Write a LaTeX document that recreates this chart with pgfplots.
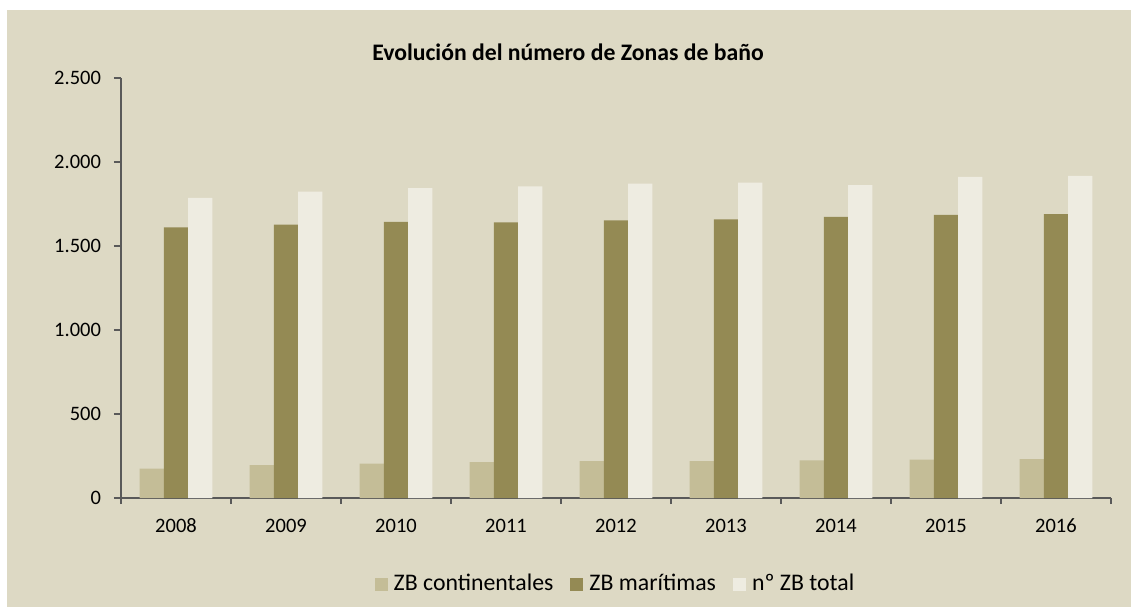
\documentclass[border=0pt]{standalone}
\usepackage{pgfplots}
\pgfplotsset{compat=1.18}
\usepackage{fontspec}
\setmainfont{Carlito}
\definecolor{bgc}{HTML}{DDD9C4}
\definecolor{cont}{HTML}{C4BD97}
\definecolor{mar}{HTML}{948A54}
\definecolor{tot}{HTML}{EEECE1}
\definecolor{axc}{HTML}{595959}
\begin{document}
\begin{tikzpicture}[x=1pt,y=1pt]
\fill[white] (0,0) rectangle (565.5,303.5);
\fill[bgc] (3.5,0) rectangle (565.5,298.5);
\node[font=\fontsize{11.85}{14}\selectfont\bfseries] at (284,277.5) {Evolución del número de Zonas de baño};
\begin{axis}[
  at={(60.5pt,54.5pt)}, anchor=south west,
  scale only axis, width=495pt, height=210pt,
  ybar=0pt, bar width=12.15pt,
  xmin=-0.5, xmax=8.5, ymin=0, ymax=2500,
  axis lines=left, axis line style={-, draw=axc, line width=0.6pt},
  xtick={0,...,8},
  xticklabels={2008,2009,2010,2011,2012,2013,2014,2015,2016},
  minor xtick={-0.5,0.5,...,8.5},
  ytick={0,500,1000,1500,2000,2500},
  yticklabels={0,500,1.000,1.500,2.000,2.500},
  tick align=outside,
  major tick length=3.5pt, minor tick length=3pt,
  major x tick style={draw=none},
  tick style={draw=axc, line width=0.6pt},
  ticklabel style={font=\fontsize{10.25}{12}\selectfont},
  yticklabel style={anchor=east, xshift=-3pt},
  xticklabel style={anchor=base, yshift=-13.5pt},
  legend columns=3,
  legend style={at={(0.5,-0.205)}, anchor=center, draw=none, fill=none,
    font=\fontsize{11.9}{14}\selectfont,
    /tikz/every odd column/.append style={column sep=1.5pt},
    /tikz/every even column/.append style={column sep=7pt},
    nodes={inner sep=1.5pt}},
  legend image code/.code={\fill[#1] (0pt,-3.25pt) rectangle (6.5pt,3.25pt);},
]
\addplot[fill=cont, draw=none] coordinates {(0,175) (1,196) (2,204) (3,214) (4,220) (5,220) (6,224) (7,228) (8,232)};
\addplot[fill=mar, draw=none] coordinates {(0,1611) (1,1627) (2,1643) (3,1641) (4,1653) (5,1659) (6,1673) (7,1686) (8,1690)};
\addplot[fill=tot, draw=none] coordinates {(0,1786) (1,1823) (2,1845) (3,1855) (4,1871) (5,1877) (6,1863) (7,1911) (8,1917)};
\legend{ZB continentales, ZB marítimas, nº ZB total}
\end{axis}
\end{tikzpicture}
\end{document}
